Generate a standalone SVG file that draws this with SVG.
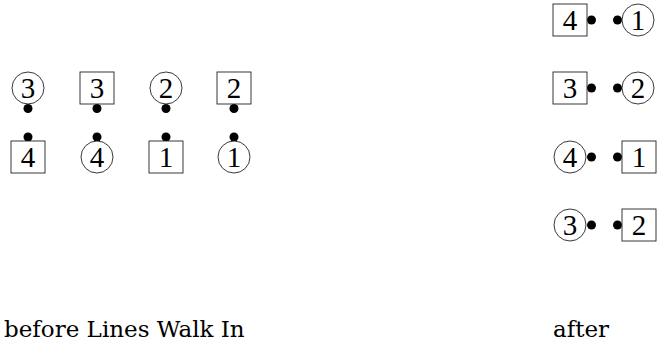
<svg xmlns="http://www.w3.org/2000/svg" width="657" height="348" viewBox="0 0 657 348">
<style>
.sh{fill:#fff;stroke:#222;stroke-width:0.9}
.num{font-family:'Liberation Serif','Times New Roman',serif;font-size:29px;text-anchor:middle;fill:#000}
.lbl{font-family:'DejaVu Serif',serif;font-size:23px;fill:#000}
.dot{fill:#000}
</style>
<rect width="657" height="348" fill="#fff"/>
<g id="connectors">
<circle class="dot" cx="28" cy="108.5" r="4.5"/>
<circle class="dot" cx="97" cy="108.5" r="4.5"/>
<circle class="dot" cx="166" cy="108.5" r="4.5"/>
<circle class="dot" cx="234" cy="108.5" r="4.5"/>
<circle class="dot" cx="28" cy="137" r="4.5"/>
<circle class="dot" cx="97" cy="137" r="4.5"/>
<circle class="dot" cx="166" cy="137" r="4.5"/>
<circle class="dot" cx="234" cy="137" r="4.5"/>
<circle class="dot" cx="591.5" cy="20" r="4.5"/>
<circle class="dot" cx="617.5" cy="20" r="4.5"/>
<circle class="dot" cx="591.5" cy="88" r="4.5"/>
<circle class="dot" cx="617.5" cy="88" r="4.5"/>
<circle class="dot" cx="591.5" cy="157" r="4.5"/>
<circle class="dot" cx="617.5" cy="157" r="4.5"/>
<circle class="dot" cx="591.5" cy="225" r="4.5"/>
<circle class="dot" cx="617.5" cy="225" r="4.5"/>
</g>
<g id="b-c3"><circle class="sh" cx="28" cy="88" r="16"/><text class="num" x="28" y="98">3</text></g>
<g id="b-s3"><rect class="sh" x="80" y="72" width="34" height="32"/><text class="num" x="97" y="98">3</text></g>
<g id="b-c2"><circle class="sh" cx="166" cy="88" r="16"/><text class="num" x="166" y="98">2</text></g>
<g id="b-s2"><rect class="sh" x="217" y="72" width="34" height="32"/><text class="num" x="234" y="98">2</text></g>
<g id="b-s4"><rect class="sh" x="11" y="141" width="34" height="32"/><text class="num" x="28" y="167">4</text></g>
<g id="b-c4"><circle class="sh" cx="97" cy="157" r="16"/><text class="num" x="97" y="167">4</text></g>
<g id="b-s1"><rect class="sh" x="149" y="141" width="34" height="32"/><text class="num" x="166" y="167">1</text></g>
<g id="b-c1"><circle class="sh" cx="234" cy="157" r="16"/><text class="num" x="234" y="167">1</text></g>
<g id="a-s4"><rect class="sh" x="553" y="4" width="34" height="32"/><text class="num" x="570" y="30">4</text></g>
<g id="a-c1"><circle class="sh" cx="638" cy="20" r="16"/><text class="num" x="638" y="30">1</text></g>
<g id="a-s3"><rect class="sh" x="553" y="72" width="34" height="32"/><text class="num" x="570" y="98">3</text></g>
<g id="a-c2"><circle class="sh" cx="638" cy="88" r="16"/><text class="num" x="638" y="98">2</text></g>
<g id="a-c4"><circle class="sh" cx="570" cy="157" r="16"/><text class="num" x="570" y="167">4</text></g>
<g id="a-s1"><rect class="sh" x="622" y="141" width="34" height="32"/><text class="num" x="639" y="167">1</text></g>
<g id="a-c3"><circle class="sh" cx="570" cy="225" r="16"/><text class="num" x="570" y="235">3</text></g>
<g id="a-s2"><rect class="sh" x="622" y="209" width="34" height="32"/><text class="num" x="639" y="235">2</text></g>
<text class="lbl" x="4" y="337">before Lines Walk In</text>
<text class="lbl" x="553" y="337">after</text>
</svg>
